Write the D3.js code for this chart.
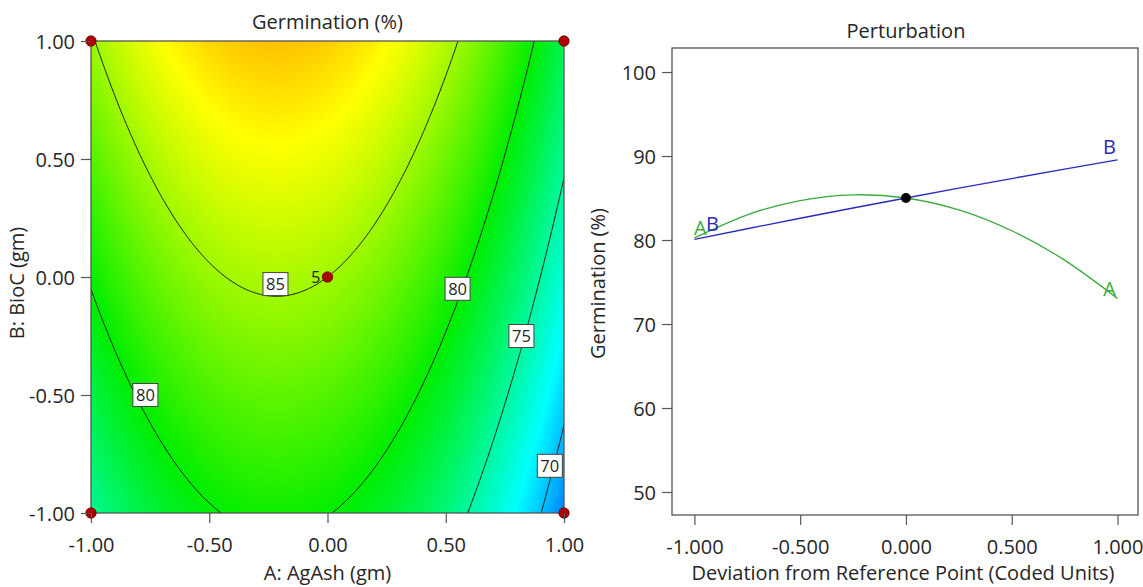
<!DOCTYPE html>
<html><head><meta charset="utf-8">
<script src="https://cdn.jsdelivr.net/npm/d3@7"></script>
<style>
body{margin:0;background:#fff}
svg text{font-family:"Open Sans",sans-serif;fill:#262626}
</style>
</head><body>
<svg id="chart" width="1143" height="587"></svg>
<script>
// ---------- DATA ----------
// Fitted quadratic response surface (coded units)
const termNames    = ["Intercept", "A", "B", "AB", "A^2", "B^2"];
const coefficients = [85.0, -3.6, 4.73, 0.0, -8.35, -0.2];
const contourLevels = [70, 75, 80, 85];
const labelLevels = [85, 80, 80, 75, 70];
const labelA      = [-0.22, -0.77, 0.55, 0.82, 0.94];
const labelB      = [-0.03, -0.50, -0.05, -0.25, -0.80];
const designA = [-1, 1, -1, 1, 0];
const designB = [1, 1, -1, -1, 0];
const contourTicks = [-1, -0.5, 0, 0.5, 1];
// Perturbation plot
const deviation = [-1, -0.75, -0.5, -0.25, 0, 0.25, 0.5, 0.75, 1];
const seriesA = [80.25, 83.0, 84.7, 85.38, 85.0, 83.58, 81.1, 77.6, 73.05];
const seriesB = [80.07, 81.34, 82.59, 83.81, 85.0, 86.17, 87.32, 88.44, 89.53];
const perturbYTicks = [50, 60, 70, 80, 90, 100];
const perturbXTicks = [-1, -0.5, 0, 0.5, 1];
const refPoint = [0, 85.0];

// ---------- HELPERS ----------
function model(a, b) {
  const c = coefficients;
  return c[0] + c[1]*a + c[2]*b + c[3]*a*b + c[4]*a*a + c[5]*b*b;
}
const svg = d3.select("#chart");
const axisColor = "#555";
const FS = "20px";

// ---------- LEFT: CONTOUR ----------
const L = {left: 91, right: 564, top: 41, bottom: 513};
const xL = d3.scaleLinear().domain([-1, 1]).range([L.left, L.right]);
const yL = d3.scaleLinear().domain([-1, 1]).range([L.bottom, L.top]);
const color = d3.scaleLinear()
  .domain([64, 72, 80, 88, 96])
  .range(["#0000ff", "#00ffff", "#00ee00", "#ffff00", "#ff0000"])
  .clamp(true);

// colour field
const W = L.right - L.left, H = L.bottom - L.top;
const canvas = document.createElement("canvas");
canvas.width = W; canvas.height = H;
const ctx = canvas.getContext("2d");
const img = ctx.createImageData(W, H);
for (let j = 0; j < H; j++) {
  const b = yL.invert(L.top + j + 0.5);
  for (let i = 0; i < W; i++) {
    const a = xL.invert(L.left + i + 0.5);
    const col = d3.rgb(color(model(a, b)));
    const k = (j * W + i) * 4;
    img.data[k] = col.r; img.data[k+1] = col.g; img.data[k+2] = col.b; img.data[k+3] = 255;
  }
}
ctx.putImageData(img, 0, 0);
svg.append("image").attr("x", L.left).attr("y", L.top)
  .attr("width", W).attr("height", H)
  .attr("href", canvas.toDataURL());

svg.append("clipPath").attr("id", "clipL").append("rect")
  .attr("x", L.left).attr("y", L.top).attr("width", W).attr("height", H);

// contour lines
const n = 241;
const grid = new Float64Array(n * n);
const gA = d3.scaleLinear().domain([0, n - 1]).range([-1, 1]);
const gB = d3.scaleLinear().domain([0, n - 1]).range([1, -1]);
for (let j = 0; j < n; j++) for (let i = 0; i < n; i++) grid[j*n + i] = model(gA(i), gB(j));
const contours = d3.contours().size([n, n]).thresholds(contourLevels)(grid);
const proj = d3.geoTransform({
  point: function(px, py) { this.stream.point(xL(gA(px - 0.5)), yL(gB(py - 0.5))); }
});
const pathGen = d3.geoPath(proj);
svg.append("g").attr("clip-path", "url(#clipL)")
  .selectAll("path").data(contours).join("path")
  .attr("d", pathGen).attr("fill", "none")
  .attr("stroke", "#1a1a1a").attr("stroke-width", 1);

// frame
svg.append("rect").attr("x", L.left).attr("y", L.top).attr("width", W).attr("height", H)
  .attr("fill", "none").attr("stroke", axisColor).attr("stroke-width", 1.3);

// contour labels
const lab = svg.append("g");
labelLevels.forEach((lv, i) => {
  const cx = xL(labelA[i]), cy = yL(labelB[i]);
  lab.append("rect").attr("x", cx - 12.5).attr("y", cy - 11.5).attr("width", 25).attr("height", 23)
    .attr("fill", "#fff").attr("stroke", "#444").attr("stroke-width", 1);
  lab.append("text").attr("x", cx).attr("y", cy).attr("dy", "0.36em")
    .attr("text-anchor", "middle").style("font-size", "16.5px").text(lv);
});
// partially hidden label at the centre point
lab.append("text").attr("x", xL(0) - 7).attr("y", yL(0)).attr("dy", "0.36em")
  .attr("text-anchor", "end").style("font-size", "16.5px").text("5");

// design points
svg.append("g").selectAll("circle").data(designA).join("circle")
  .attr("cx", (d) => xL(d)).attr("cy", (d, i) => yL(designB[i])).attr("r", 5.2)
  .attr("fill", "#b00000").attr("stroke", "#6a0000").attr("stroke-width", 0.8);

// axes
const fmt2 = d => d.toFixed(2);
const fmt3 = d => d.toFixed(3);
const axL = svg.append("g").attr("transform", `translate(0,${L.bottom})`)
  .call(d3.axisBottom(xL).tickValues(contourTicks).tickFormat(fmt2).tickSize(10).tickSizeOuter(0));
const ayL = svg.append("g").attr("transform", `translate(${L.left},0)`)
  .call(d3.axisLeft(yL).tickValues(contourTicks).tickFormat(fmt2).tickSize(10).tickSizeOuter(0));
[axL, ayL].forEach(g => {
  g.select(".domain").remove();
  g.selectAll(".tick line").attr("stroke", axisColor).attr("stroke-width", 1.2);
  g.selectAll(".tick text").style("font-size", FS).style("font-family", "'Open Sans',sans-serif").attr("fill", "#262626");
});
axL.selectAll(".tick text").attr("dy", "1.3em");
ayL.selectAll(".tick text").attr("dx", "-0.15em").attr("dy", "0.36em");

svg.append("text").attr("x", (L.left + L.right) / 2).attr("y", 22).attr("dy", "0.36em")
  .attr("text-anchor", "middle").style("font-size", FS).text("Germination (%)");
svg.append("text").attr("x", (L.left + L.right) / 2).attr("y", 573).attr("dy", "0.36em")
  .attr("text-anchor", "middle").style("font-size", FS).text("A: AgAsh (gm)");
svg.append("text").attr("transform", `translate(17,${(L.top + L.bottom) / 2 + 6}) rotate(-90)`).attr("dy", "0.36em")
  .attr("text-anchor", "middle").style("font-size", FS).text("B: BioC (gm)");

// ---------- RIGHT: PERTURBATION ----------
const R = {left: 672, right: 1138, top: 48, bottom: 515};
const xR = d3.scaleLinear().domain([-1.106, 1.097]).range([R.left, R.right]);
const yR = d3.scaleLinear().domain([47.26, 102.86]).range([R.bottom, R.top]);

svg.append("rect").attr("x", R.left).attr("y", R.top).attr("width", R.right - R.left).attr("height", R.bottom - R.top)
  .attr("fill", "#fff").attr("stroke", axisColor).attr("stroke-width", 1.3);

const line = d3.line().x((d, i) => xR(deviation[i])).y(d => yR(d)).curve(d3.curveNatural);
svg.append("path").attr("d", line(seriesA)).attr("fill", "none").attr("stroke", "#3aaa3a").attr("stroke-width", 1.3);
svg.append("path").attr("d", line(seriesB)).attr("fill", "none").attr("stroke", "#2b2bc0").attr("stroke-width", 1.3);
svg.append("circle").attr("cx", xR(refPoint[0])).attr("cy", yR(refPoint[1])).attr("r", 5).attr("fill", "#000");

// series labels
const sl = svg.append("g").style("font-size", FS);
sl.append("text").attr("x", xR(deviation[0]) + 6).attr("y", yR(seriesA[0]) - 3).attr("text-anchor", "middle")
  .style("fill", "#3aaa3a").text("A");
sl.append("text").attr("x", xR(deviation[0]) + 18).attr("y", yR(seriesB[0]) - 8).attr("text-anchor", "middle")
  .style("fill", "#2b2bc0").text("B");
sl.append("text").attr("x", xR(deviation[8]) - 8).attr("y", yR(seriesA[8]) - 2).attr("text-anchor", "middle")
  .style("fill", "#3aaa3a").text("A");
sl.append("text").attr("x", xR(deviation[8]) - 8).attr("y", yR(seriesB[8]) - 6).attr("text-anchor", "middle")
  .style("fill", "#2b2bc0").text("B");

const axR = svg.append("g").attr("transform", `translate(0,${R.bottom})`)
  .call(d3.axisBottom(xR).tickValues(perturbXTicks).tickFormat(fmt3).tickSize(10).tickSizeOuter(0));
const ayR = svg.append("g").attr("transform", `translate(${R.left},0)`)
  .call(d3.axisLeft(yR).tickValues(perturbYTicks).tickFormat(d3.format("d")).tickSize(10).tickSizeOuter(0));
[axR, ayR].forEach(g => {
  g.select(".domain").remove();
  g.selectAll(".tick line").attr("stroke", axisColor).attr("stroke-width", 1.2);
  g.selectAll(".tick text").style("font-size", FS).style("font-family", "'Open Sans',sans-serif").attr("fill", "#262626");
});
axR.selectAll(".tick text").attr("dy", "1.3em");
ayR.selectAll(".tick text").attr("dx", "-0.15em").attr("dy", "0.36em");

svg.append("text").attr("x", (R.left + R.right) / 2 + 1).attr("y", 31).attr("dy", "0.36em")
  .attr("text-anchor", "middle").style("font-size", FS).text("Perturbation");
svg.append("text").attr("x", 903).attr("y", 573).attr("dy", "0.36em")
  .attr("text-anchor", "middle").style("font-size", FS).text("Deviation from Reference Point (Coded Units)");
svg.append("text").attr("transform", `translate(598,${(R.top + R.bottom) / 2 + 2}) rotate(-90)`).attr("dy", "0.36em")
  .attr("text-anchor", "middle").style("font-size", FS).text("Germination (%)");
</script>
</body></html>
